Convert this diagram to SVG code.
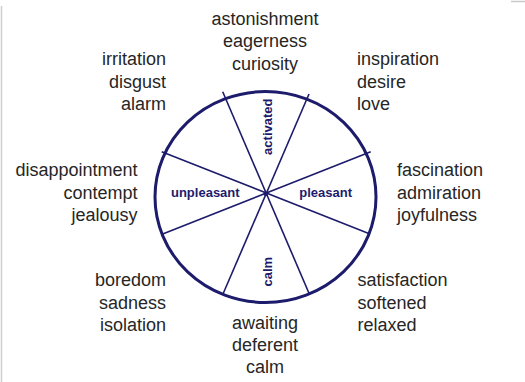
<svg xmlns="http://www.w3.org/2000/svg" width="525" height="382" viewBox="0 0 525 382">
<style>
.t{font-family:"Liberation Sans",Arial,sans-serif;font-size:18px;fill:#262626}
.l{font-family:"Liberation Sans",Arial,sans-serif;font-size:13px;font-weight:bold;fill:#1d1b6b}
.s{stroke:#1d1b6b;stroke-width:1.6;fill:none}
</style>
<rect width="525" height="382" fill="#fff"/>
<line x1="1.5" y1="6" x2="1.5" y2="382" stroke="#cfcfcf" stroke-width="1.5"/>
<line x1="511" y1="1.5" x2="525" y2="1.5" stroke="#c8c8c8" stroke-width="1.5"/>
<g id="wheel">
<ellipse cx="265.5" cy="197" rx="110.5" ry="105.5" fill="none" stroke="#1d1b6b" stroke-width="3"/>
</g>
<g id="connectors">
<line class="s" x1="222.7" y1="91.7" x2="309" y2="293.3"/>
<line class="s" x1="309" y1="94" x2="223.3" y2="293.3"/>
<line class="s" x1="161.7" y1="151.7" x2="370" y2="234"/>
<line class="s" x1="162.7" y1="234" x2="370.7" y2="151.7"/>
<circle cx="265.7" cy="193.8" r="2.3" fill="#1d1b6b"/>
</g>
<g id="axis-activated"><text class="l" text-anchor="middle" transform="translate(272,126.7) rotate(-90)">activated</text></g>
<g id="axis-calm"><text class="l" text-anchor="middle" transform="translate(272,271.7) rotate(-90)">calm</text></g>
<g id="axis-unpleasant"><text class="l" x="205.3" y="197.3" text-anchor="middle">unpleasant</text></g>
<g id="axis-pleasant"><text class="l" x="325.7" y="197.3" text-anchor="middle">pleasant</text></g>
<g id="top"><text class="t" text-anchor="middle"><tspan x="265" y="24.5">astonishment</tspan><tspan x="265" y="47">eagerness</tspan><tspan x="265" y="69.5">curiosity</tspan></text></g>
<g id="top-left"><text class="t" text-anchor="end"><tspan x="166" y="65">irritation</tspan><tspan x="166" y="87.5">disgust</tspan><tspan x="166" y="110">alarm</tspan></text></g>
<g id="top-right"><text class="t"><tspan x="357" y="65">inspiration</tspan><tspan x="357" y="87.5">desire</tspan><tspan x="357" y="110">love</tspan></text></g>
<g id="left"><text class="t" text-anchor="end"><tspan x="137.5" y="176">disappointment</tspan><tspan x="137.5" y="198.5">contempt</tspan><tspan x="137.5" y="221">jealousy</tspan></text></g>
<g id="right"><text class="t"><tspan x="397" y="176">fascination</tspan><tspan x="397" y="198.5">admiration</tspan><tspan x="397" y="221">joyfulness</tspan></text></g>
<g id="bottom-left"><text class="t" text-anchor="end"><tspan x="166" y="286">boredom</tspan><tspan x="166" y="308.5">sadness</tspan><tspan x="166" y="331">isolation</tspan></text></g>
<g id="bottom-right"><text class="t"><tspan x="357.5" y="286">satisfaction</tspan><tspan x="357.5" y="308.5">softened</tspan><tspan x="357.5" y="331">relaxed</tspan></text></g>
<g id="bottom"><text class="t" text-anchor="middle"><tspan x="265" y="328.5">awaiting</tspan><tspan x="265" y="351">deferent</tspan><tspan x="265" y="373.3">calm</tspan></text></g>
</svg>
